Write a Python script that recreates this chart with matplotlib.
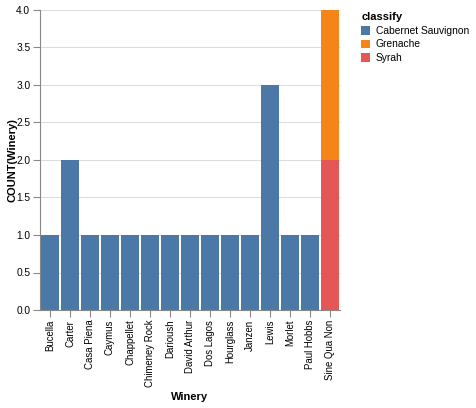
import matplotlib
matplotlib.use("Agg")
import matplotlib.pyplot as plt
import numpy as np
from matplotlib.patches import Patch

plt.rcParams['font.family'] = ['Liberation Sans', 'DejaVu Sans']

# --- Data ---
wineries = ["Bucella", "Carter", "Casa Piena", "Caymus", "Chappellet",
            "Chimeney Rock", "Darioush", "David Arthur", "Dos Lagos",
            "Hourglass", "Janzen", "Lewis", "Morlet", "Paul Hobbs",
            "Sine Qua Non"]
classes = ["Cabernet Sauvignon", "Grenache", "Syrah"]
cabernet = [1, 2, 1, 1, 1, 1, 1, 1, 1, 1, 1, 3, 1, 1, 0]
grenache = [0, 0, 0, 0, 0, 0, 0, 0, 0, 0, 0, 0, 0, 0, 2]
syrah = [0, 0, 0, 0, 0, 0, 0, 0, 0, 0, 0, 0, 0, 0, 2]
colors = ["#4c78a8", "#f58518", "#e45756"]

# --- Figure ---
W, H = 477, 408
fig = plt.figure(figsize=(W / 100, H / 100), dpi=100)
ax = fig.add_axes([40 / W, (H - 310) / H, 300 / W, 300 / H])

x = np.arange(len(wineries))
bw = 0.9
# stack order: cabernet/syrah at bottom, grenache on top
bottom = np.zeros(len(wineries))
for vals, col in [(cabernet, colors[0]), (syrah, colors[2]), (grenache, colors[1])]:
    vals = np.array(vals, dtype=float)
    ax.bar(x, vals, width=bw, bottom=bottom, color=col, zorder=2)
    bottom += vals

ax.set_xlim(-0.5, len(wineries) - 0.5)
ax.set_ylim(0, 4)
ax.set_yticks(np.arange(0, 4.01, 0.5))
ax.set_yticklabels([f"{v:.1f}" for v in np.arange(0, 4.01, 0.5)])
ax.set_xticks(x)
ax.set_xticklabels(wineries, rotation=90)

ax.grid(axis="y", color="#dddddd", linewidth=0.8, zorder=0)
for s in ["top", "right"]:
    ax.spines[s].set_visible(False)
for s in ["left", "bottom"]:
    ax.spines[s].set_color("#888888")
    ax.spines[s].set_linewidth(0.8)
ax.tick_params(colors="#888888", length=5, width=0.8, labelsize=7.3,
               labelcolor="black", pad=2)
ax.tick_params(axis="x", labelsize=6.9)

ax.set_xlabel("Winery", fontsize=8, fontweight="bold", va="center")
ax.set_ylabel("COUNT(Winery)", fontsize=8, fontweight="bold", va="center")
ax.xaxis.set_label_coords(0.5, (310 - 397) / 300)
ax.yaxis.set_label_coords((12 - 40) / 300, 0.5)

handles = [Patch(facecolor=c, edgecolor="none") for c in colors]
leg = fig.legend(handles, classes, loc="upper left",
                 bbox_to_anchor=(352 / W, 1 - 3 / H), frameon=False,
                 title="classify", fontsize=7.4, handlelength=0.9,
                 handleheight=0.9, handletextpad=0.5, labelspacing=0.35,
                 alignment="left")
leg.get_title().set_fontweight("bold")
leg.get_title().set_fontsize(8)

fig.savefig("out.png", dpi=100)
